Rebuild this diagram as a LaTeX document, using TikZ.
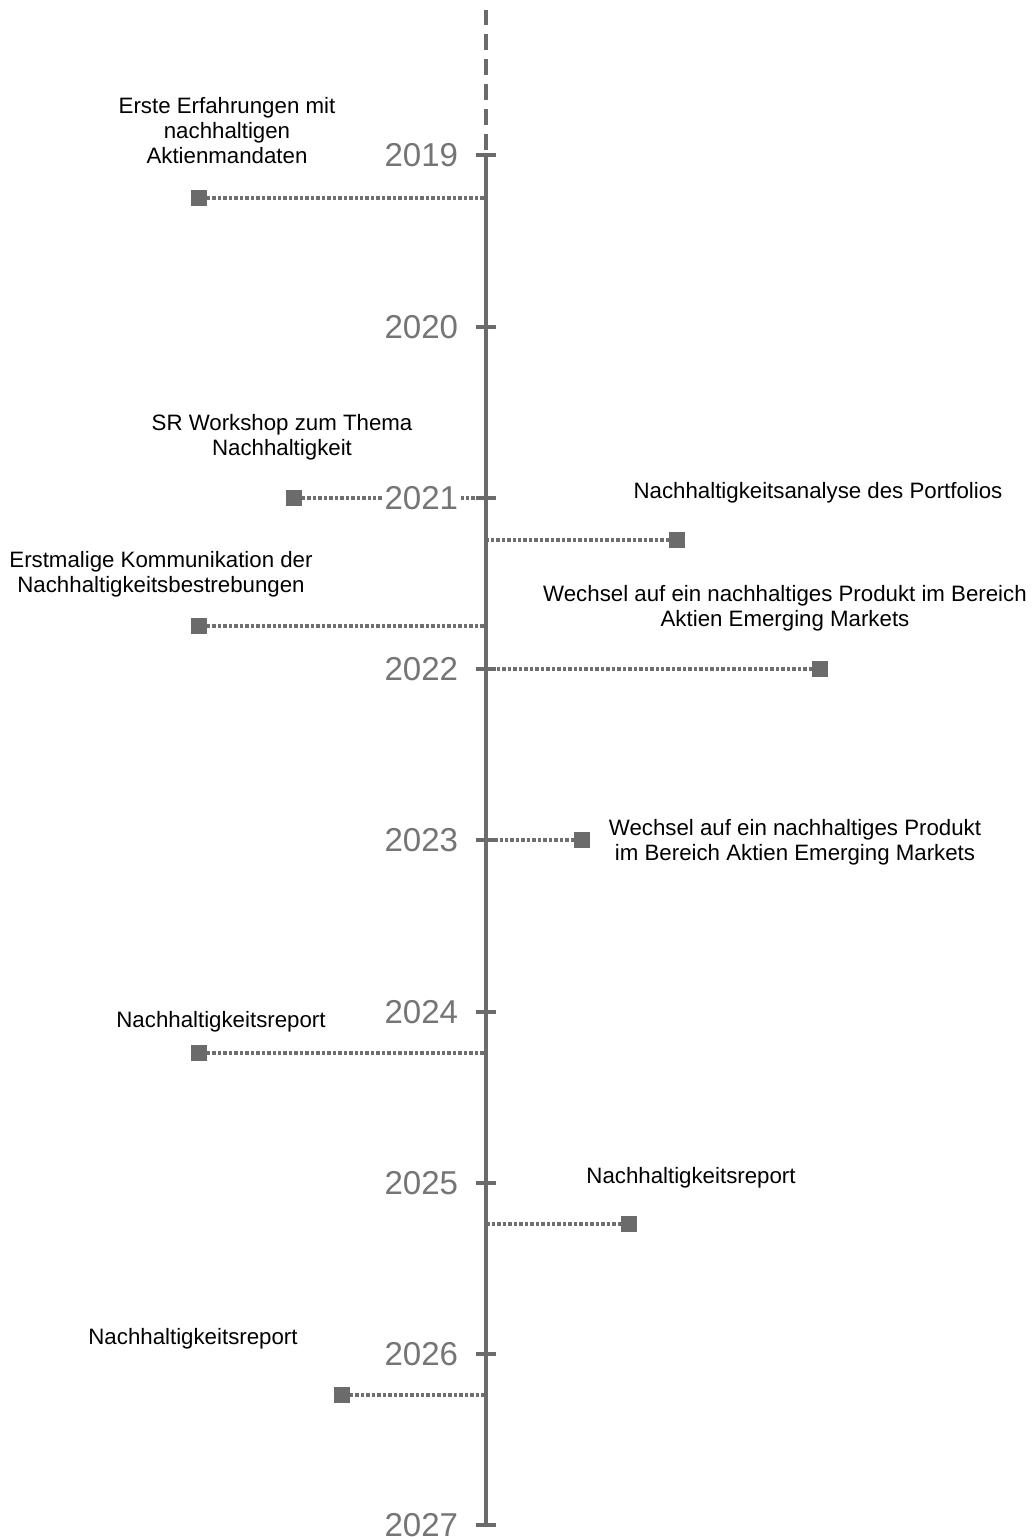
\documentclass[tikz,border=0pt]{standalone}
\usepackage{fontspec}
\setmainfont{Liberation Sans}
\definecolor{axisgray}{HTML}{6B6B6B}
\definecolor{dotgray}{HTML}{6F6F6F}
\definecolor{yeargray}{HTML}{757575}
\begin{document}
\begin{tikzpicture}[x=0.75pt,y=-0.75pt,
  axisline/.style={draw=axisgray,line width=3pt},
  tickline/.style={draw=axisgray,line width=3pt},
  dashaxis/.style={draw=axisgray,line width=3pt,dash pattern=on 12pt off 6.75pt},
  leader/.style={draw=dotgray,line width=2.5pt,dash pattern=on 2.6pt off 1.5pt},
  marker/.style={rectangle,fill=axisgray,minimum size=11.5pt,inner sep=0pt},
  yearlbl/.style={anchor=east,fill=white,inner sep=2pt,text=yeargray,font=\fontsize{24.8pt}{28pt}\selectfont},
  evt/.style={align=center,inner sep=0pt,font=\fontsize{16.7pt}{18.75pt}\selectfont}]
\useasboundingbox (0,0) rectangle (1032,1537);
% axis coordinates
\coordinate (top) at (486,10);
\coordinate (dend) at (486,150);
\foreach \yr/\yy in {2019/155,2020/327,2021/498,2022/669,2023/840,2024/1012,2025/1183,2026/1354,2027/1525}{
  \coordinate (t\yr) at (486,\yy);
  \coordinate (tl\yr) at (476,\yy);
  \coordinate (tr\yr) at (496,\yy);
}
% markers
\node[marker] (m1) at (199,198) {};
\node[marker] (m2) at (294,498) {};
\node[marker] (m3) at (677,540) {};
\node[marker] (m4) at (199,626) {};
\node[marker] (m5) at (820,669) {};
\node[marker] (m6) at (582,840) {};
\node[marker] (m7) at (199,1053) {};
\node[marker] (m8) at (629,1224) {};
\node[marker] (m9) at (342,1395) {};
% axis attach points
\coordinate (a1) at (486,198);
\coordinate (a2) at (486,498);
\coordinate (a3) at (486,540);
\coordinate (a4) at (486,626);
\coordinate (a5) at (486,669);
\coordinate (a6) at (486,840);
\coordinate (a7) at (486,1053);
\coordinate (a8) at (486,1224);
\coordinate (a9) at (486,1395);
% leaders
\foreach \i in {1,...,9}{ \draw[leader] (m\i) -- (a\i); }
% year labels
\foreach \yr/\yy in {2019/155,2020/327,2021/498,2022/669,2023/840,2024/1012,2025/1183,2026/1354,2027/1525}{
  \node[yearlbl] (y\yr) at (461,\yy) {\yr};
}
% axis
\draw[dashaxis] (dend) -- (top);
\draw[axisline] (t2019) -- (t2027);
\foreach \yr in {2019,2020,2021,2022,2023,2024,2025,2026,2027}{
  \draw[tickline] (tl\yr) -- (tr\yr);
}
% redraw markers on top
\foreach \i in {1,...,9}{
  \fill[axisgray] (m\i.south west) rectangle (m\i.north east);
}
% event texts
\node[evt] (e1) at (227,131) {Erste Erfahrungen mit\\nachhaltigen\\Aktienmandaten};
\node[evt] (e2) at (282,437.5) {SR Workshop zum Thema\\Nachhaltigkeit};
\node[evt] (e3) at (818,493) {Nachhaltigkeitsanalyse des Portfolios};
\node[evt] (e4) at (161,574.5) {Erstmalige Kommunikation der\\Nachhaltigkeitsbestrebungen};
\node[evt] (e5) at (785,608.5) {Wechsel auf ein nachhaltiges Produkt im Bereich\\Aktien Emerging Markets};
\node[evt] (e6) at (795,842) {Wechsel auf ein nachhaltiges Produkt\\im Bereich Aktien Emerging Markets};
\node[evt] (e7) at (221,1022) {Nachhaltigkeitsreport};
\node[evt] (e8) at (691,1178) {Nachhaltigkeitsreport};
\node[evt] (e9) at (193,1339) {Nachhaltigkeitsreport};
\end{tikzpicture}
\end{document}
